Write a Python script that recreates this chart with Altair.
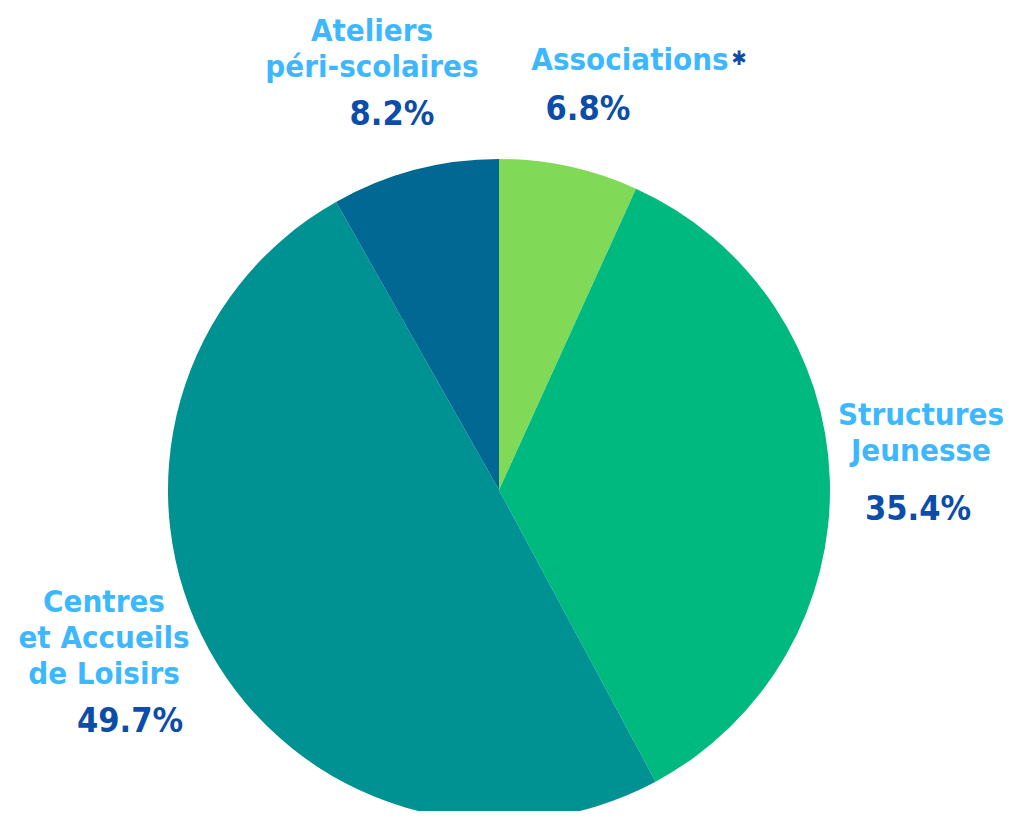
import altair as alt
import pandas as pd

categories = ["Associations", "Structures Jeunesse", "Centres et Accueils de Loisirs", "Ateliers péri-scolaires"]
shares = [6.8, 35.4, 49.7, 8.2]
slice_colors = ["#80DA58", "#00B97E", "#009193", "#006892"]

label_lines = [["Associations"], ["Structures", "Jeunesse"], ["Centres", "et Accueils", "de Loisirs"], ["Ateliers", "péri-scolaires"]]
pct_labels = ["6.8%", "35.4%", "49.7%", "8.2%"]

# label placement (view pixels)
name_xy = [(622, 38), (913, 393), (96, 580), (364, 9)]
pct_xy = [(580, 102), (910, 502), (122, 714), (384, 107)]

W, H = 995, 803
FONT = "DejaVu Sans Condensed"
LIGHT = "#3DB8FF"
DARK = "#0B4DA8"

pie_df = pd.DataFrame({"cat": categories, "share": shares, "order": list(range(len(categories)))})

pie = alt.Chart(pie_df).mark_arc(radius=331).encode(
    theta=alt.Theta("share:Q", stack=True),
    order=alt.Order("order:Q"),
    color=alt.Color("cat:N", scale=alt.Scale(domain=categories, range=slice_colors), legend=None),
    x=alt.value(491),
    y=alt.value(482),
)

name_df = pd.DataFrame({
    "txt": label_lines,
    "x": [p[0] for p in name_xy],
    "y": [p[1] for p in name_xy],
})
names = alt.Chart(name_df).mark_text(
    font=FONT, fontWeight="bold", fontSize=31, color=LIGHT,
    align="center", baseline="top", lineHeight=36,
).encode(
    x=alt.X("x:Q", scale=None), y=alt.Y("y:Q", scale=None), text="txt"
)

pct_df = pd.DataFrame({
    "txt": pct_labels,
    "x": [p[0] for p in pct_xy],
    "y": [p[1] for p in pct_xy],
})
pcts = alt.Chart(pct_df).mark_text(
    font=FONT, fontWeight="bold", fontSize=34, color=DARK,
    align="center", baseline="middle",
).encode(
    x=alt.X("x:Q", scale=None), y=alt.Y("y:Q", scale=None), text="txt:N"
)

star_df = pd.DataFrame({"txt": ["✱"], "x": [731], "y": [51]})
star = alt.Chart(star_df).mark_text(
    font=FONT, fontWeight="bold", fontSize=20, color=DARK,
    align="center", baseline="middle",
).encode(
    x=alt.X("x:Q", scale=None), y=alt.Y("y:Q", scale=None), text="txt:N"
)

chart = alt.layer(pie, names, pcts, star).properties(
    width=W, height=H, padding=0, background="white",
    autosize=alt.AutoSizeParams(type="none")
).configure_view(strokeWidth=0, stroke="transparent")

chart.save("out.html", embed_options={"renderer": "svg", "actions": False})
